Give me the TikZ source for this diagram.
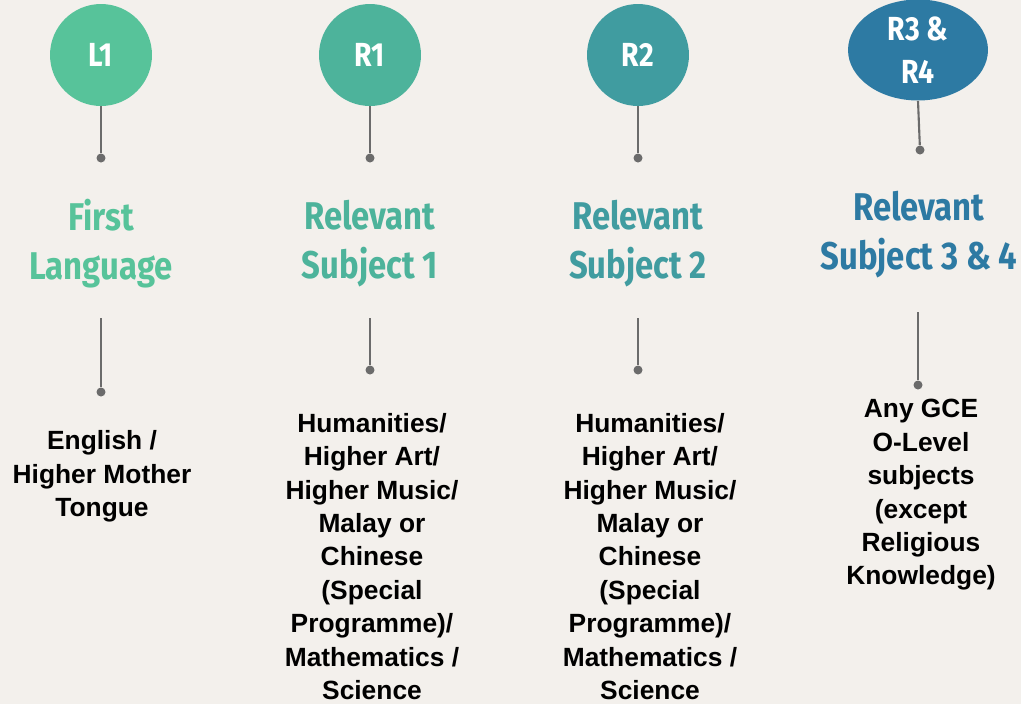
\documentclass[tikz,border=0pt]{standalone}
\usepackage{fontspec}
\usetikzlibrary{shapes.geometric}
\setmainfont{Liberation Sans}
\newfontfamily\headfont[FakeStretch=0.85]{Fira Sans}

\definecolor{bgcol}{HTML}{F3F0EC}
\definecolor{lonecol}{HTML}{57C39A}
\definecolor{ronecol}{HTML}{4DB39B}
\definecolor{rtwocol}{HTML}{409CA0}
\definecolor{rfourcol}{HTML}{2D7AA3}
\definecolor{stemcol}{HTML}{6B6B6B}

\tikzset{
  badge/.style={circle,minimum size=2.04cm,inner sep=0pt,text=white,align=center,
    font=\headfont\bfseries\fontsize{19}{24.4}\selectfont},
  title/.style={align=center,font=\headfont\bfseries\fontsize{22}{27.8}\selectfont},
  body/.style={align=center,font=\bfseries\fontsize{15}{19}\selectfont},
  dot/.style={circle,fill=stemcol,inner sep=0pt,minimum size=0.18cm},
  stem/.style={stemcol,line width=1.2pt}
}

\begin{document}
\begin{tikzpicture}[x=0.02cm,y=-0.02cm]
\useasboundingbox[fill=bgcol] (0,0) rectangle (1021,704);

% L1
\node[badge,fill=lonecol] (l1) at (101,55) {L1};
\node[dot] (l1dot) at (101,158) {};
\draw[stem] (l1.south) -- (l1dot);
\node[title,text=lonecol] (l1title) at (101,244) {First\\Language};
\coordinate (l1top) at (101,318);
\node[dot] (l1end) at (101,392) {};
\draw[stem] (l1top) -- (l1end);
\node[body] (l1text) at (102,476.5) {English /\\Higher Mother\\Tongue};

% R1
\node[badge,fill=ronecol] (r1) at (370,55) {R1};
\node[dot] (r1dot) at (370,158) {};
\draw[stem] (r1.south) -- (r1dot);
\node[title,text=ronecol] (r1title) at (370,244) {Relevant\\Subject 1};
\coordinate (r1top) at (370,318);
\node[dot] (r1end) at (370,370) {};
\draw[stem] (r1top) -- (r1end);
\node[body] (r1text) at (372,556.5) {Humanities/\\Higher Art/\\Higher Music/\\Malay or\\Chinese\\(Special\\Programme)/\\Mathematics /\\Science};

% R2
\node[badge,fill=rtwocol] (r2) at (638,55) {R2};
\node[dot] (r2dot) at (638,158) {};
\draw[stem] (r2.south) -- (r2dot);
\node[title,text=rtwocol] (r2title) at (638,244) {Relevant\\Subject 2};
\coordinate (r2top) at (638,318);
\node[dot] (r2end) at (638,370) {};
\draw[stem] (r2top) -- (r2end);
\node[body] (r2text) at (650,556.5) {Humanities/\\Higher Art/\\Higher Music/\\Malay or\\Chinese\\(Special\\Programme)/\\Mathematics /\\Science};

% R3 & R4
\node[badge,ellipse,minimum width=2.8cm,minimum height=2.02cm,fill=rfourcol] (r4) at (918,50) {R3 \&\\R4};
\node[dot] (r4dot) at (920,150) {};
\draw[stem] (r4.south) -- (r4dot);
\node[title,text=rfourcol] (r4title) at (919,235) {Relevant\\Subject 3 \& 4};
\coordinate (r4top) at (918,312);
\node[dot] (r4end) at (918,385) {};
\draw[stem] (r4top) -- (r4end);
\node[body] (r4text) at (921,495) {Any GCE\\O-Level\\subjects\\(except\\Religious\\Knowledge)};

\end{tikzpicture}
\end{document}
